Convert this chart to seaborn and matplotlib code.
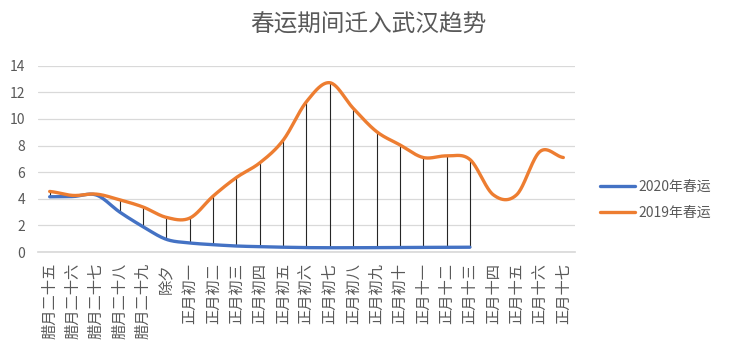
import numpy as np
import pandas as pd
import seaborn as sns
import matplotlib.pyplot as plt

# 春运期间迁入武汉 - values
days = ['腊月二十五', '腊月二十六', '腊月二十七', '腊月二十八', '腊月二十九', '除夕',
        '正月初一', '正月初二', '正月初三', '正月初四', '正月初五', '正月初六',
        '正月初七', '正月初八', '正月初九', '正月初十', '正月十一', '正月十二',
        '正月十三', '正月十四', '正月十五', '正月十六', '正月十七']
move_2020 = [4.15, 4.17, 4.28, 3.0, 1.9, 0.95, 0.68, 0.55, 0.45, 0.4, 0.36, 0.33,
             0.32, 0.32, 0.33, 0.34, 0.35, 0.35, 0.36]
move_2019 = [4.55, 4.25, 4.35, 3.92, 3.38, 2.6, 2.55, 4.2, 5.6, 6.7, 8.4, 11.3,
             12.72, 10.8, 9.05, 8.05, 7.1, 7.22, 6.95, 4.3, 4.3, 7.55, 7.1]

c2020 = '#4472C4'
c2019 = '#ED7D31'
grey = '#595959'


def smooth(vals, n=40):
    # excel style smoothed line (catmull-rom / hermite between the points)
    p = np.asarray(vals, float)
    ext = np.r_[p[0], p, p[-1]]
    m = (ext[2:] - ext[:-2]) / 2
    t = np.linspace(0, 1, n, endpoint=False)
    h00 = 2 * t**3 - 3 * t**2 + 1
    h10 = t**3 - 2 * t**2 + t
    h01 = -2 * t**3 + 3 * t**2
    h11 = t**3 - t**2
    xs, ys = [], []
    for i in range(len(p) - 1):
        xs.append(i + t)
        ys.append(h00 * p[i] + h10 * m[i] + h01 * p[i + 1] + h11 * m[i + 1])
    xs.append([len(p) - 1])
    ys.append([p[-1]])
    return pd.DataFrame({'x': np.concatenate(xs), 'y': np.concatenate(ys)})


sns.set_theme(style='white')
plt.rcParams['font.family'] = ['Noto Sans CJK SC', 'DejaVu Sans']

fig = plt.figure(figsize=(7.4, 3.52), dpi=100)
ax = fig.add_axes([38 / 740, 1 - 252 / 352, (575 - 38) / 740, (252 - 65.7) / 352])

# drop lines between the two years
n20 = len(move_2020)
ax.vlines(range(n20), move_2020, move_2019[:n20], color='#262626', lw=0.8, zorder=2)

s20 = smooth(move_2020)
s19 = smooth(move_2019)
sns.lineplot(data=s20, x='x', y='y', color=c2020, lw=2.4, label='2020年春运', ax=ax, zorder=3)
sns.lineplot(data=s19, x='x', y='y', color=c2019, lw=2.4, label='2019年春运', ax=ax, zorder=4)

ax.set_xlim(-0.5, len(days) - 0.5)
ax.set_ylim(0, 14)
ax.set_yticks(range(0, 15, 2))
ax.set_xticks(range(len(days)))
ax.set_xticklabels(days, fontsize=11, color=grey, rotation=90)
ax.tick_params(axis='x', length=0, pad=8)
ax.tick_params(axis='y', length=0, pad=9, labelsize=10, labelcolor=grey)
ax.set_xlabel('')
ax.set_ylabel('')
ax.yaxis.grid(True, color='#d9d9d9', lw=0.9)
ax.set_axisbelow(True)
for s in ['top', 'right', 'left']:
    ax.spines[s].set_visible(False)
ax.spines['bottom'].set_color('#d9d9d9')

handles, labels = ax.get_legend_handles_labels()
ax.get_legend().remove()
leg = fig.legend(handles, labels, loc='center left', bbox_to_anchor=(600 / 740, 1 - 199.5 / 352),
                 frameon=False, fontsize=10, handlelength=2.5, handletextpad=0.3,
                 borderpad=0, borderaxespad=0, labelspacing=0.85)
for txt in leg.get_texts():
    txt.set_color(grey)

fig.text(368 / 740, 1 - 25 / 352, '春运期间迁入武汉趋势', ha='center', va='center',
         fontsize=17, color=grey)

fig.savefig('out.png', dpi=100)
